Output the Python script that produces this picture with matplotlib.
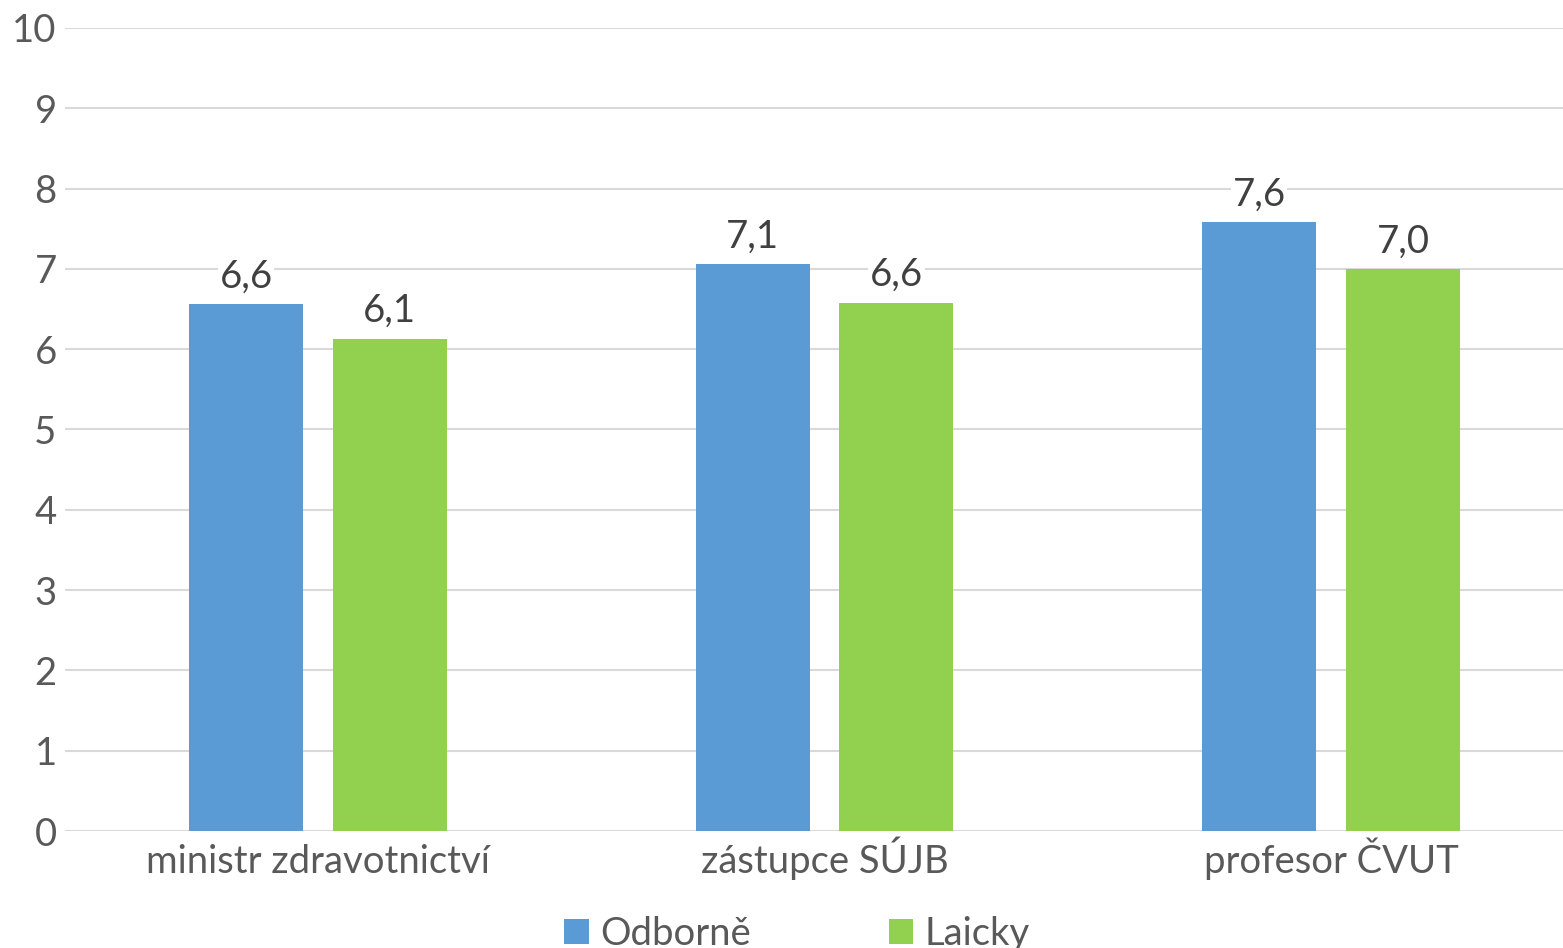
import matplotlib.pyplot as plt
import numpy as np
from matplotlib.patches import Patch

# data
categories = ["ministr zdravotnictví", "zástupce SÚJB", "profesor ČVUT"]
series_names = ["Odborně", "Laicky"]
odborne = [6.56, 7.06, 7.58]
laicky = [6.13, 6.58, 7.00]
y_ticks = [0, 1, 2, 3, 4, 5, 6, 7, 8, 9, 10]

blue = "#5B9BD5"
green = "#92D050"
tick_color = "#595959"
label_color = "#404040"
fs = 27.5

plt.rcParams["font.family"] = ["Lato", "DejaVu Sans"]

fig = plt.figure(figsize=(15.63, 9.48), dpi=100)
ax = fig.add_axes([65 / 1563, (948 - 831) / 948, 1 - 65 / 1563, (831 - 28) / 948])

x = np.arange(len(categories))
w = 0.225
off = 0.142
b1 = ax.bar(x - off, odborne, w, color=blue, zorder=2)
b2 = ax.bar(x + off, laicky, w, color=green, zorder=2)

# popisky hodnot
for bars, vals in ((b1, odborne), (b2, laicky)):
    for rect, v in zip(bars, vals):
        ax.text(rect.get_x() + rect.get_width() / 2, v + 0.12,
                f"{v:.1f}".replace(".", ","), ha="center", va="bottom",
                fontsize=fs, color=label_color, zorder=3,
                bbox=dict(facecolor="white", edgecolor="none", pad=1))

ax.set_xlim(-0.4995, 2.458)
ax.set_ylim(0, 10)
ax.set_yticks(y_ticks)
ax.set_xticks(x)
ax.set_xticklabels(categories)
ax.tick_params(axis="both", length=0, labelsize=fs, colors=tick_color)
ax.tick_params(axis="y", pad=6)
ax.tick_params(axis="x", pad=30)
for lab in ax.get_xticklabels():
    lab.set_va("baseline")
ax.yaxis.grid(True, color="#D9D9D9", lw=1.5, zorder=0)
ax.set_axisbelow(True)
for s in ax.spines.values():
    s.set_visible(False)

handles = [Patch(facecolor=blue, label=series_names[0]),
           Patch(facecolor=green, label=series_names[1])]
fig.legend(handles=handles, loc="center", bbox_to_anchor=(797 / 1563, 1 - 934 / 948),
           ncol=2, frameon=False, fontsize=fs, labelcolor=tick_color,
           handlelength=0.65, handleheight=0.65, handletextpad=0.3,
           columnspacing=3.6, borderpad=0)

fig.savefig("out.png", dpi=100)
